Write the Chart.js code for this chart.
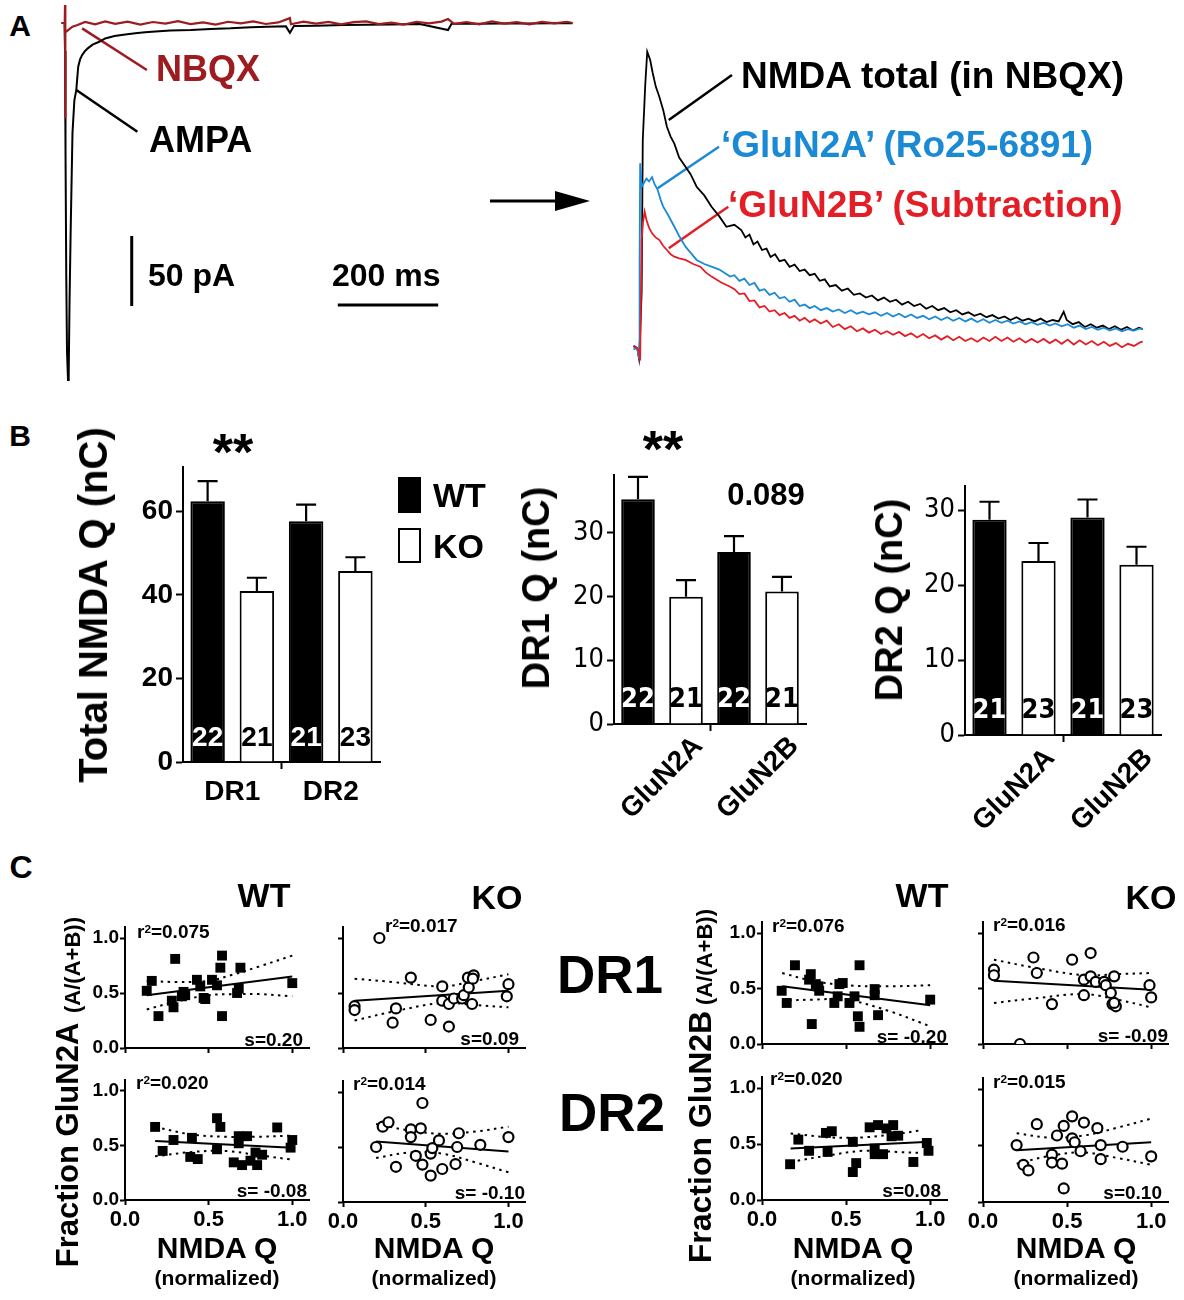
<!DOCTYPE html>
<html>
<head>
<meta charset="utf-8">
<script src="https://cdn.jsdelivr.net/npm/chart.js@4.4.0/dist/chart.umd.min.js"></script>
<style>
  body { margin: 0; background: #fff; width: 1184px; height: 1300px; position: relative; overflow: hidden;
         font-family: 'Liberation Sans', Arial, Helvetica, sans-serif; }
  canvas { position: absolute; }
  .t { position: absolute; font-weight: bold; line-height: 1; white-space: nowrap; color: #000; }
  .box { position: absolute; box-sizing: border-box; }
</style>
</head>
<body>
<script>
// ---------- A: example traces, [time ms, current pA] ----------
const ampaTrace = [[-7, 0], [-1, 0], [0, -20], [1, -90], [2.5, -180], [4, -235], [6, -255], [7.4, -250], [9, -200],
  [11.2, -150], [14.9, -78.6], [18.7, -55], [22.5, -47.9], [26.3, -31.2], [30, -26], [34.1, -22.9], [40, -20],
  [45.4, -18.1], [55, -15.5], [68.1, -13.4], [80, -11], [98.6, -9.3], [120, -8.2], [140, -7.4], [159.4, -6.6],
  [180, -6], [210, -5.3], [250.6, -5], [290, -4.2], [330, -3.8], [370, -3], [402.8, -2.6], [440, -2.4], [448, -7],
  [456, -2.2], [500, -1.9], [554.8, -1.4], [600, -1.3], [650, -1], [706.8, -0.7], [763, -5], [770, -0.6],
  [820, -0.5], [870, -0.4], [920, -0.4], [970, -0.2], [1011, -0.2]];
const nbqxTrace = [[-7, 0], [-0.5, 0], [0, 12.8], [0.3, -68], [1, -5], [3, -6], [8, -4.5], [15, -2.6], [25, -1.4],
  [40, 0.8], [60, -0.9], [80, 1.2], [100, -0.6], [125, 1.0], [150, -1.1], [175, 0.7], [200, -0.4], [225, 1.3],
  [250, -0.8], [275, 0.5], [300, -1.2], [325, 0.9], [350, -0.3], [375, 1.1], [400, -0.7], [425, 0.4], [448, 3.5],
  [450, -0.9], [475, 1.0], [500, -0.5], [525, 0.8], [550, -1.0], [575, 0.6], [600, 1.2], [625, -0.8], [650, 0.3],
  [675, -1.1], [700, 0.9], [725, -0.2], [750, 1.0], [763, 2.8], [775, -0.6], [800, 0.7], [825, -0.9], [850, 1.1],
  [875, -0.4], [900, 0.6], [925, -1.0], [950, 0.8], [975, -0.3], [1000, 0.9], [1011, 0.0]];

const totalTrace = [[-11, 1.5], [-3.6, 0], [0, -7.4], [2.3, 10.5], [5.3, 40], [7.5, 148.6], [12.6, 189], [16.4, 211.6],
  [22.3, 205.7], [27, 197], [33.4, 186.7], [40, 180], [48.2, 170], [55.6, 158], [63, 151], [70.4, 146], [80, 136],
  [92.6, 129.5], [103, 124], [114.8, 115.2], [130, 109], [144.5, 100.9], [160, 94], [174.1, 86.6], [190, 88],
  [203.7, 84.3], [212, 79], [220, 81], [228, 74], [236, 76], [245, 70], [254, 71], [262, 65], [271, 67], [280, 62],
  [290, 63], [300, 58], [310, 59.5], [320, 55], [330, 56], [340, 52], [350, 53], [360, 48], [370, 49], [380, 44],
  [392, 45], [404, 41], [416, 42.5], [428, 38], [440, 39], [452, 36], [464, 37.5], [476, 34], [488, 36], [500, 33],
  [512, 34.5], [524, 31], [536, 33], [548, 30], [560, 31.5], [572, 28], [584, 30], [596, 27], [608, 28.5],
  [620, 25.5], [632, 27], [644, 24], [656, 25.5], [668, 23], [680, 24.5], [692, 22], [704, 23.5], [716, 21],
  [728, 22.5], [740, 20], [752, 22], [764, 19.5], [776, 21], [788, 19], [800, 21], [812, 18.5], [824, 20], [836, 19],
  [846, 25.9], [852, 20], [864, 17], [876, 18.5], [888, 15], [900, 17], [912, 14.5], [924, 16], [936, 13.5],
  [948, 15.5], [960, 13], [972, 15], [984, 12.5], [996, 14.5], [1003.5, 13.5]];
const gluN2ATrace = [[-11, -1], [-3.6, 0], [0, -7], [1.2, 60], [2.3, 132], [5.3, 115], [10, 118], [14.9, 121], [20, 119],
  [26, 122], [31, 117], [37.1, 113], [43, 106], [48.2, 101], [58, 95], [70.4, 86.6], [80, 80], [92.6, 72.4],
  [103, 68], [114.8, 62.9], [130, 60], [144.5, 58.1], [160, 56], [181.5, 51], [190, 52], [200, 48], [210, 49.5],
  [220, 45], [230, 46.5], [240, 41], [250, 42], [260, 38], [270, 39.5], [280, 35.5], [290, 36.5], [300, 33],
  [310, 34.5], [320, 30], [330, 31], [340, 28.5], [350, 30], [362, 27], [374, 28.5], [386, 26], [398, 27.5],
  [410, 25], [422, 27], [434, 24.5], [446, 26], [458, 24], [470, 25.5], [482, 23], [494, 25], [506, 22.5],
  [518, 24.5], [530, 22], [542, 24], [554, 21.5], [566, 23], [578, 20.5], [590, 22.5], [602, 20], [614, 22],
  [626, 19.5], [638, 21.5], [650, 19], [662, 21], [674, 18.5], [686, 20.5], [698, 18], [710, 20], [722, 18],
  [734, 19.5], [746, 17.5], [758, 19], [770, 17], [782, 18.5], [794, 16.5], [806, 18], [818, 16], [830, 17.5],
  [842, 15.5], [854, 17], [866, 14.5], [878, 16], [890, 13.5], [902, 15], [914, 13], [926, 14.5], [938, 12.5],
  [950, 14], [962, 12], [974, 13.5], [986, 12.5], [998, 14], [1003.5, 13.5]];
const gluN2BTrace = [[-11, 1], [-3.6, 0], [0, -2], [2.3, -9], [5.3, 77], [8, 90], [11.2, 97.4], [14.9, 91.4], [20, 86],
  [26, 81.9], [33, 79], [40.8, 77.1], [48, 73], [55.6, 70], [63, 67], [70.4, 65.2], [80, 64], [92.6, 62.9],
  [108, 60], [122.2, 58.1], [133, 54], [144.5, 51], [163, 47], [181.5, 43.8], [190, 42], [200, 38.5], [210, 39],
  [220, 33.5], [230, 34], [240, 29], [250, 30], [260, 26], [270, 27], [280, 23.5], [290, 25], [300, 21.5],
  [310, 23], [320, 19.5], [330, 21.5], [340, 18.5], [350, 20.5], [362, 17.5], [374, 19.5], [386, 15], [398, 17],
  [410, 13.5], [422, 15.5], [434, 12], [446, 14], [458, 11], [470, 13], [482, 10], [494, 12], [506, 9.5],
  [518, 11.5], [530, 8.5], [542, 10.5], [554, 7.5], [566, 10], [578, 7], [590, 9], [602, 6], [614, 8.5],
  [626, 5.5], [638, 8], [650, 5], [662, 7], [674, 4.5], [686, 7.5], [698, 5], [710, 8], [722, 5], [734, 7.5],
  [746, 4.5], [758, 7], [770, 4], [782, 6.5], [794, 4], [806, 6.5], [818, 3.5], [830, 6], [842, 3], [854, 6],
  [866, 2.5], [878, 5.5], [890, 2.5], [902, 5], [914, 2], [926, 4.5], [938, 1.5], [950, 3.5], [962, 0.5],
  [974, 3], [986, 1.5], [998, 4], [1003.5, 4.5]];

// scale bars, callouts and arrow, in trace units
const barPA = 50, barMS = 200;
const pABar = [[132.9, -152.1], [132.9, -152.1 - barPA]];
const msBar = [[543.4, -201.4], [543.4 + barMS, -201.4]];
const callNbqx = [[34.1, -3.8], [163.1, -33.6]];
const callAmpa = [[22.5, -47.9], [144.2, -77.6]];
const callTotal = [[59.3, 162.9], [185.2, 195]];
const callN2A = [[37.1, 114.1], [159.3, 143.8]];
const callN2B = [[59.3, 71.2], [177.8, 100.9]];
const arrowShaft = [[846.6, -127.1], [982, -127.1]];
const arrowTip = [1045.8, -127.1], arrowBack = 976;

// ---------- B: charge (nC), mean, SEM, n ----------
const totalCats = ['DR1', 'DR2'];
const totalTicks = [0, 20, 40, 60];
const totalWT = [62.4, 57.6], totalWTerr = [4.8, 4.0], totalWTn = ['22', '21'];
const totalKO = [40.9, 45.7], totalKOerr = [3.2, 3.3], totalKOn = ['21', '23'];
const subCats = ['GluN2A', 'GluN2B'];
const subTicks = [0, 10, 20, 30];
const dr1WT = [35.3, 27.0], dr1WTerr = [3.5, 2.5], dr1WTn = ['22', '22'];
const dr1KO = [20.0, 20.8], dr1KOerr = [2.6, 2.3], dr1KOn = ['21', '21'];
const dr2WT = [28.7, 29.0], dr2WTerr = [2.4, 2.4], dr2WTn = ['21', '21'];
const dr2KO = [23.2, 22.7], dr2KOerr = [2.4, 2.4], dr2KOn = ['23', '23'];

// ---------- C: fraction vs normalized NMDA Q ----------
const qTicks = [0, 0.5, 1.0];
// GluN2A, WT, DR1
const a1x = [0.13, 0.16, 0.20, 0.30, 0.28, 0.29, 0.35, 0.34, 0.36, 0.43, 0.45, 0.47, 0.48, 0.52, 0.55, 0.58, 0.57, 0.58, 0.69, 0.67, 0.68, 1.00];
const a1y = [0.52, 0.61, 0.29, 0.81, 0.43, 0.37, 0.51, 0.47, 0.48, 0.62, 0.56, 0.455, 0.445, 0.62, 0.57, 0.84, 0.73, 0.29, 0.73, 0.50, 0.54, 0.59];
const a1fitX = [0.13, 1.0], a1fitY = [0.48, 0.65];
const a1bandX = [0.13, 0.3, 0.5, 0.65, 0.8, 1.0];
const a1up = [0.61, 0.60, 0.61, 0.67, 0.74, 0.84], a1lo = [0.35, 0.42, 0.48, 0.49, 0.49, 0.47];
// GluN2A, WT, DR2
const a2x = [0.18, 0.225, 0.29, 0.40, 0.39, 0.435, 0.55, 0.57, 0.55, 0.65, 0.68, 0.68, 0.70, 0.73, 0.75, 0.78, 0.82, 0.79, 0.91, 0.99, 1.00];
const a2y = [0.67, 0.45, 0.55, 0.57, 0.395, 0.375, 0.75, 0.67, 0.465, 0.345, 0.585, 0.52, 0.32, 0.585, 0.36, 0.435, 0.415, 0.32, 0.665, 0.48, 0.55];
const a2fitX = [0.18, 1.0], a2fitY = [0.54, 0.48];
const a2bandX = [0.18, 0.4, 0.6, 0.8, 1.0];
const a2up = [0.67, 0.60, 0.58, 0.58, 0.59], a2lo = [0.40, 0.44, 0.45, 0.41, 0.37];
// GluN2A, KO, DR1
const a3x = [0.22, 0.07, 0.07, 0.32, 0.41, 0.30, 0.53, 0.64, 0.60, 0.60, 0.64, 0.67, 0.72, 0.73, 0.76, 0.755, 0.79, 0.785, 0.78, 1.00, 0.99];
const a3y = [1.00, 0.38, 0.345, 0.36, 0.64, 0.23, 0.255, 0.195, 0.56, 0.43, 0.40, 0.45, 0.45, 0.48, 0.55, 0.64, 0.66, 0.63, 0.40, 0.58, 0.47];
const a3fitX = [0.07, 1.0], a3fitY = [0.43, 0.52];
const a3bandX = [0.07, 0.3, 0.6, 0.8, 1.0];
const a3up = [0.63, 0.60, 0.56, 0.61, 0.67], a3lo = [0.25, 0.33, 0.41, 0.39, 0.37];
// GluN2A, KO, DR2
const a4x = [0.20, 0.24, 0.275, 0.32, 0.41, 0.41, 0.44, 0.47, 0.48, 0.48, 0.53, 0.53, 0.54, 0.58, 0.60, 0.68, 0.70, 0.69, 0.83, 1.00];
const a4y = [0.50, 0.685, 0.725, 0.32, 0.66, 0.59, 0.42, 0.67, 0.90, 0.34, 0.24, 0.44, 0.49, 0.56, 0.30, 0.345, 0.625, 0.50, 0.52, 0.59];
const a4fitX = [0.2, 1.0], a4fitY = [0.55, 0.46];
const a4bandX = [0.2, 0.4, 0.6, 0.8, 1.0];
const a4up = [0.71, 0.65, 0.62, 0.64, 0.685], a4lo = [0.40, 0.45, 0.44, 0.36, 0.27];
// GluN2B, WT, DR1
const b1x = [0.117, 0.147, 0.196, 0.296, 0.29, 0.28, 0.32, 0.335, 0.34, 0.43, 0.45, 0.46, 0.48, 0.52, 0.55, 0.58, 0.57, 0.58, 0.67, 0.67, 0.69, 1.00];
const b1y = [0.48, 0.37, 0.71, 0.18, 0.63, 0.58, 0.54, 0.52, 0.48, 0.37, 0.43, 0.54, 0.55, 0.37, 0.43, 0.71, 0.25, 0.155, 0.495, 0.44, 0.26, 0.40];
const b1fitX = [0.12, 1.0], b1fitY = [0.52, 0.35];
const b1bandX = [0.12, 0.3, 0.5, 0.75, 1.0];
const b1up = [0.64, 0.57, 0.53, 0.52, 0.53], b1lo = [0.39, 0.40, 0.40, 0.30, 0.16];
// GluN2B, KO, DR1
const b2x = [0.065, 0.065, 0.22, 0.30, 0.32, 0.41, 0.53, 0.64, 0.60, 0.64, 0.67, 0.72, 0.73, 0.78, 0.60, 0.76, 0.77, 0.79, 0.78, 0.99, 1.00];
const b2y = [0.67, 0.62, 0.00, 0.78, 0.64, 0.36, 0.76, 0.82, 0.58, 0.61, 0.56, 0.56, 0.53, 0.61, 0.44, 0.46, 0.36, 0.34, 0.37, 0.53, 0.42];
const b2fitX = [0.065, 1.0], b2fitY = [0.57, 0.49];
const b2bandX = [0.065, 0.3, 0.6, 0.8, 1.0];
const b2up = [0.76, 0.69, 0.62, 0.63, 0.64], b2lo = [0.37, 0.41, 0.45, 0.40, 0.33];
// GluN2B, WT, DR2
const b3x = [0.167, 0.216, 0.28, 0.38, 0.415, 0.39, 0.54, 0.54, 0.56, 0.64, 0.69, 0.67, 0.67, 0.72, 0.74, 0.78, 0.77, 0.81, 0.90, 0.98, 0.99];
const b3y = [0.32, 0.54, 0.44, 0.60, 0.615, 0.43, 0.52, 0.25, 0.33, 0.65, 0.67, 0.46, 0.41, 0.41, 0.64, 0.67, 0.57, 0.575, 0.34, 0.51, 0.44];
const b3fitX = [0.17, 1.0], b3fitY = [0.46, 0.52];
const b3bandX = [0.17, 0.4, 0.6, 0.8, 0.95];
const b3up = [0.595, 0.56, 0.56, 0.59, 0.625], b3lo = [0.34, 0.40, 0.44, 0.43, 0.42];
// GluN2B, KO, DR2
const b4x = [0.20, 0.24, 0.27, 0.32, 0.41, 0.41, 0.44, 0.47, 0.48, 0.48, 0.53, 0.53, 0.545, 0.58, 0.60, 0.68, 0.70, 0.70, 0.83, 1.00];
const b4y = [0.505, 0.33, 0.28, 0.69, 0.42, 0.35, 0.59, 0.34, 0.675, 0.12, 0.76, 0.565, 0.53, 0.45, 0.705, 0.655, 0.505, 0.38, 0.49, 0.405];
const b4fitX = [0.2, 1.0], b4fitY = [0.46, 0.53];
const b4bandX = [0.2, 0.4, 0.6, 0.8, 1.0];
const b4up = [0.61, 0.57, 0.59, 0.66, 0.74], b4lo = [0.34, 0.41, 0.44, 0.39, 0.33];

const r2Labels = ['0.075', '0.020', '0.017', '0.014', '0.076', '0.016', '0.020', '0.015'];
const slopeLabels = ['0.20', ' -0.08', '0.09', ' -0.10', ' -0.20', ' -0.09', '0.08', '0.10'];

// ---------- helpers ----------
const FONT = "'Liberation Sans', Arial, Helvetica, sans-serif";
const NARROW = "'Liberation Sans Narrow', 'DejaVu Sans Condensed', 'Liberation Sans', sans-serif";
const RED_DARK = '#9e1b20', BLUE = '#1a8ad4', RED = '#e41e26';

function zip(xs, ys) {
  return xs.map((x, i) => ({ x: x, y: ys[i] }));
}
function pairs(list) {
  return list.map(p => ({ x: p[0], y: p[1] }));
}

function makeCanvas(x, y, w, h) {
  const c = document.createElement('canvas');
  c.width = w; c.height = h;
  c.style.left = x + 'px'; c.style.top = y + 'px';
  c.style.width = w + 'px'; c.style.height = h + 'px';
  document.body.appendChild(c);
  return c.getContext('2d');
}

function txt(html, x, y, size, align, color, rot) {
  const d = document.createElement('div');
  d.className = 't';
  d.innerHTML = html;
  d.style.left = x + 'px';
  d.style.top = y + 'px';
  d.style.fontSize = size + 'px';
  if (color) d.style.color = color;
  const tx = align === 'l' ? '0' : (align === 'r' ? '-100%' : '-50%');
  d.style.transform = 'translate(' + tx + ',-50%)' + (rot ? ' rotate(-90deg)' : '');
  document.body.appendChild(d);
}

function box(x, y, w, h, fill) {
  const d = document.createElement('div');
  d.className = 'box';
  Object.assign(d.style, { left: x + 'px', top: y + 'px', width: w + 'px', height: h + 'px',
    background: fill, border: '2.5px solid #000' });
  document.body.appendChild(d);
}

function lineSet(data, color, width, extra) {
  return Object.assign({ data: data, showLine: true, pointRadius: 0, pointHoverRadius: 0, borderColor: color,
    borderWidth: width, tension: 0, fill: false }, extra || {});
}

const hidden = { display: false };

// ---------- A: traces ----------
const arrowHead = {
  id: 'arrowHead',
  afterDatasetsDraw(chart, args, opts) {
    if (!opts.tip) return;
    const xs = chart.scales.x, ys = chart.scales.y, ctx = chart.ctx;
    const tx = xs.getPixelForValue(opts.tip[0]), ty = ys.getPixelForValue(opts.tip[1]);
    const bx = xs.getPixelForValue(opts.back);
    ctx.save();
    ctx.fillStyle = '#000';
    ctx.beginPath();
    ctx.moveTo(tx, ty);
    ctx.lineTo(bx, ty - opts.half);
    ctx.lineTo(bx, ty + opts.half);
    ctx.closePath();
    ctx.fill();
    ctx.restore();
  }
};

function traceChart(x, y, w, h, tMin, tMax, iMin, iMax, datasets, arrow) {
  new Chart(makeCanvas(x, y, w, h), {
    type: 'scatter',
    data: { datasets: datasets },
    options: {
      responsive: false, animation: false, events: [],
      layout: { padding: 0 },
      plugins: { legend: hidden, tooltip: { enabled: false }, arrowHead: arrow || {} },
      scales: {
        x: { type: 'linear', min: tMin, max: tMax, display: false },
        y: { type: 'linear', min: iMin, max: iMax, display: false }
      }
    },
    plugins: [arrowHead]
  });
}

traceChart(40, 0, 560, 390, -49.8, 1065.7, -262.1, 16.43, [
  lineSet(pairs(nbqxTrace), RED_DARK, 2.2),
  lineSet(pairs(ampaTrace), '#000', 2),
  lineSet(pairs(callNbqx), RED_DARK, 2.5),
  lineSet(pairs(callAmpa), '#000', 2.5),
  lineSet(pairs(pABar), '#000', 3),
  lineSet(pairs(msBar), '#000', 3),
  lineSet(pairs(arrowShaft), '#000', 3)
], { tip: arrowTip, back: arrowBack, half: 10 });

traceChart(620, 30, 540, 340, -37.85, 1037.85, -15.71, 227.14, [
  lineSet(pairs(gluN2BTrace), RED, 1.8),
  lineSet(pairs(gluN2ATrace), BLUE, 1.8),
  lineSet(pairs(totalTrace), '#000', 1.8),
  lineSet(pairs(callTotal), '#000', 2.5),
  lineSet(pairs(callN2A), BLUE, 2.5),
  lineSet(pairs(callN2B), RED, 2.5)
]);

// ---------- B: bar charts ----------
const barExtras = {
  id: 'barExtras',
  afterDatasetsDraw(chart, args, opts) {
    const ctx = chart.ctx, ys = chart.scales.y;
    chart.data.datasets.forEach((ds, di) => {
      chart.getDatasetMeta(di).data.forEach((bar, i) => {
        const top = ys.getPixelForValue(ds.data[i] + ds.errors[i]);
        ctx.save();
        ctx.strokeStyle = '#000';
        ctx.lineWidth = 2.2;
        ctx.beginPath();
        ctx.moveTo(bar.x, bar.y);
        ctx.lineTo(bar.x, top);
        ctx.moveTo(bar.x - 10, top);
        ctx.lineTo(bar.x + 10, top);
        ctx.stroke();
        ctx.fillStyle = ds.nColor;
        ctx.font = opts.nFont;
        ctx.textAlign = 'center';
        ctx.textBaseline = 'middle';
        ctx.fillText(ds.counts[i], bar.x, ys.getPixelForValue(0) - 24);
        ctx.restore();
      });
    });
  }
};

const slantLabels = {
  id: 'slantLabels',
  afterDraw(chart, args, opts) {
    if (!opts.labels) return;
    const ctx = chart.ctx, xs = chart.scales.x;
    ctx.save();
    ctx.font = opts.font;
    ctx.fillStyle = '#000';
    ctx.textAlign = 'center';
    ctx.textBaseline = 'middle';
    opts.labels.forEach((lab, i) => {
      ctx.save();
      ctx.translate(xs.getPixelForValue(i), xs.top + opts.offset);
      ctx.rotate(-Math.PI / 4);
      ctx.fillText(lab, 0, 0);
      ctx.restore();
    });
    ctx.restore();
  }
};

function barChart(cfg) {
  const ctx = makeCanvas(cfg.box[0], cfg.box[1], cfg.box[2], cfg.box[3]);
  new Chart(ctx, {
    type: 'bar',
    data: {
      labels: cfg.cats,
      datasets: [
        { data: cfg.wt, errors: cfg.wtErr, counts: cfg.wtN, nColor: '#fff',
          backgroundColor: '#000', borderColor: '#000', borderWidth: 2 },
        { data: cfg.ko, errors: cfg.koErr, counts: cfg.koN, nColor: '#000',
          backgroundColor: '#fff', borderColor: '#000', borderWidth: 2 }
      ]
    },
    options: {
      responsive: false, animation: false, events: [],
      barPercentage: 0.7, categoryPercentage: 1.0,
      layout: { padding: { top: cfg.padTop, right: cfg.padRight, left: 0, bottom: 0 } },
      plugins: {
        legend: hidden, tooltip: { enabled: false },
        barExtras: { nFont: cfg.nFont },
        slantLabels: cfg.slant ? { labels: cfg.cats, offset: cfg.slantOffset, font: 'bold 28px ' + FONT } : {}
      },
      scales: {
        x: {
          afterFit: s => { s.height = cfg.xH; },
          ticks: { display: !cfg.slant, color: '#000', font: { family: FONT, size: 28, weight: 'bold' }, padding: 6 },
          grid: { drawOnChartArea: false, tickLength: 7, tickWidth: 2,
                  color: c => (c.index === 1 ? '#000' : 'rgba(0,0,0,0)') },
          border: { color: '#000', width: 2 }
        },
        y: {
          min: 0, max: cfg.yMax,
          afterFit: s => { s.width = cfg.yW; },
          afterBuildTicks: s => { s.ticks = cfg.ticks.map(v => ({ value: v })); },
          ticks: { color: '#000', font: cfg.tickFont, padding: 3 },
          grid: { drawOnChartArea: false, tickLength: 7, tickWidth: 2, color: '#000' },
          border: { color: '#000', width: 2 }
        }
      }
    },
    plugins: [barExtras, slantLabels]
  });
}

barChart({ box: [110, 440, 290, 380], yW: 73, xH: 58, padTop: 27, padRight: 20, yMax: 70.6, ticks: totalTicks,
  cats: totalCats, wt: totalWT, wtErr: totalWTerr, wtN: totalWTn, ko: totalKO, koErr: totalKOerr, koN: totalKOn,
  tickFont: { family: FONT, size: 28, weight: 'bold' }, nFont: 'bold 28px ' + FONT, slant: false });

barChart({ box: [555, 450, 265, 390], yW: 59, xH: 116, padTop: 25, padRight: 14, yMax: 39.1, ticks: subTicks,
  cats: subCats, wt: dr1WT, wtErr: dr1WTerr, wtN: dr1WTn, ko: dr1KO, koErr: dr1KOerr, koN: dr1KOn,
  tickFont: { family: NARROW, size: 27, weight: 'normal' }, nFont: 'bold 27px ' + NARROW, slant: true, slantOffset: 54 });

barChart({ box: [905, 460, 270, 380], yW: 60, xH: 105, padTop: 26, padRight: 14, yMax: 33.2, ticks: subTicks,
  cats: subCats, wt: dr2WT, wtErr: dr2WTerr, wtN: dr2WTn, ko: dr2KO, koErr: dr2KOerr, koN: dr2KOn,
  tickFont: { family: NARROW, size: 27, weight: 'normal' }, nFont: 'bold 27px ' + NARROW, slant: true, slantOffset: 55 });

// ---------- C: scatter plots ----------
const AXW = 45, AXH = 35, PT = 14, PR = 14;
function scatterPlot(area, pts, fit, band, open, showY, showX) {
  const ctx = makeCanvas(area[0] - AXW, area[2] - PT, area[1] - area[0] + AXW + PR, area[3] - area[2] + PT + AXH);
  const dotted = { borderDash: [2.5, 4.5], tension: 0.35 };
  new Chart(ctx, {
    type: 'scatter',
    data: {
      datasets: [
        { data: zip(pts[0], pts[1]), pointStyle: open ? 'circle' : 'rect',
          pointRadius: open ? 5 : 7, pointHoverRadius: open ? 5 : 7, backgroundColor: open ? '#fff' : '#000',
          borderColor: '#000', borderWidth: open ? 2.2 : 0 },
        lineSet(zip(fit[0], fit[1]), '#000', 2),
        lineSet(zip(band[0], band[1]), '#000', 2, dotted),
        lineSet(zip(band[0], band[2]), '#000', 2, dotted)
      ]
    },
    options: {
      responsive: false, animation: false, events: [],
      layout: { padding: { top: PT, right: PR, left: 0, bottom: 0 } },
      plugins: { legend: hidden, tooltip: { enabled: false } },
      scales: {
        x: {
          type: 'linear', min: 0, max: 1.1,
          afterFit: s => { s.height = AXH; },
          afterBuildTicks: s => { s.ticks = qTicks.map(v => ({ value: v })); },
          ticks: { display: showX, color: '#000', padding: 2, font: { family: FONT, size: 22, weight: 'bold' },
                   callback: v => v.toFixed(1) },
          grid: { drawOnChartArea: false, tickLength: 5, tickWidth: 2, color: '#000' },
          border: { color: '#000', width: 2 }
        },
        y: {
          type: 'linear', min: 0, max: 1.1,
          afterFit: s => { s.width = AXW; },
          afterBuildTicks: s => { s.ticks = qTicks.map(v => ({ value: v })); },
          ticks: { display: showY, color: '#000', padding: 1, font: { family: FONT, size: 19, weight: 'bold' },
                   callback: v => v.toFixed(1) },
          grid: { drawOnChartArea: false, tickLength: 5, tickWidth: 2, color: '#000' },
          border: { color: '#000', width: 2 }
        }
      }
    }
  });
}

scatterPlot([125, 309, 927, 1048], [a1x, a1y], [a1fitX, a1fitY], [a1bandX, a1up, a1lo], false, true, false);
scatterPlot([125, 309, 1080, 1200], [a2x, a2y], [a2fitX, a2fitY], [a2bandX, a2up, a2lo], false, true, true);
scatterPlot([343, 525, 927, 1048], [a3x, a3y], [a3fitX, a3fitY], [a3bandX, a3up, a3lo], true, false, false);
scatterPlot([343, 525, 1081, 1202], [a4x, a4y], [a4fitX, a4fitY], [a4bandX, a4up, a4lo], true, false, true);
scatterPlot([762, 947, 922, 1044], [b1x, b1y], [b1fitX, b1fitY], [b1bandX, b1up, b1lo], false, true, false);
scatterPlot([983, 1168, 922, 1044], [b2x, b2y], [b2fitX, b2fitY], [b2bandX, b2up, b2lo], true, false, false);
scatterPlot([762, 947, 1077, 1200], [b3x, b3y], [b3fitX, b3fitY], [b3bandX, b3up, b3lo], false, true, true);
scatterPlot([983, 1168, 1078, 1202], [b4x, b4y], [b4fitX, b4fitY], [b4bandX, b4up, b4lo], true, false, true);

// ---------- text ----------
txt('A', 20, 26, 30, 'c');
txt('B', 20, 436, 30, 'c');
txt('C', 21, 867, 32, 'c');

txt('NBQX', 156, 69, 36, 'l', RED_DARK);
txt('AMPA', 149, 140, 36, 'l');
txt('50 pA', 148, 275, 32, 'l');
txt('200 ms', 332, 275, 32, 'l');
txt('NMDA total (in NBQX)', 741, 75, 37, 'l');
txt('\u2018GluN2A\u2019 (Ro25-6891)', 721, 144, 37, 'l', BLUE);
txt('\u2018GluN2B\u2019 (Subtraction)', 728, 204, 37, 'l', RED);

txt('Total NMDA Q (nC)', 93, 605, 40, 'c', null, true);
txt('DR1 Q (nC)', 536, 588, 38, 'c', null, true);
txt('DR2 Q (nC)', 889, 600, 38, 'c', null, true);
txt('**', 233, 452, 52, 'c');
txt('**', 663, 449, 52, 'c');
txt('0.089', 766, 494, 31, 'c');
box(398, 477, 23, 36, '#000');
box(398, 528, 23, 35, '#fff');
txt('WT', 433, 495, 34, 'l');
txt('KO', 433, 546, 34, 'l');

txt('WT', 264, 895, 34, 'c');
txt('KO', 497, 897, 34, 'c');
txt('WT', 922, 895, 34, 'c');
txt('KO', 1151, 897, 34, 'c');
txt('DR1', 610, 974, 53, 'c');
txt('DR2', 612, 1112, 53, 'c');
txt('Fraction GluN2A', 67, 1145, 31, 'c', null, true);
txt('(A/(A+B))', 73, 965, 22, 'c', null, true);
txt('Fraction GluN2B', 700, 1137, 32, 'c', null, true);
txt('(A/(A+B))', 705, 957, 22, 'c', null, true);
[217, 434, 853, 1076].forEach(cx => {
  txt('NMDA Q', cx, 1248, 30, 'c');
  txt('(normalized)', cx, 1277, 21, 'c');
});

const r2Pos = [[137, 931], [136, 1082], [385, 925], [353, 1083], [772, 925], [993, 924], [770, 1078], [993, 1081]];
const sPos = [[303, 1039], [307, 1190], [519, 1038], [525, 1192], [947, 1036], [1168, 1035], [941, 1190], [1162, 1192]];
r2Labels.forEach((v, i) => {
  txt('r<span style="position:relative;top:-0.45em;font-size:0.62em">2</span>=' + v, r2Pos[i][0], r2Pos[i][1], 19, 'l');
  txt('s=' + slopeLabels[i], sPos[i][0], sPos[i][1], 19, 'r');
});
</script>
</body>
</html>
